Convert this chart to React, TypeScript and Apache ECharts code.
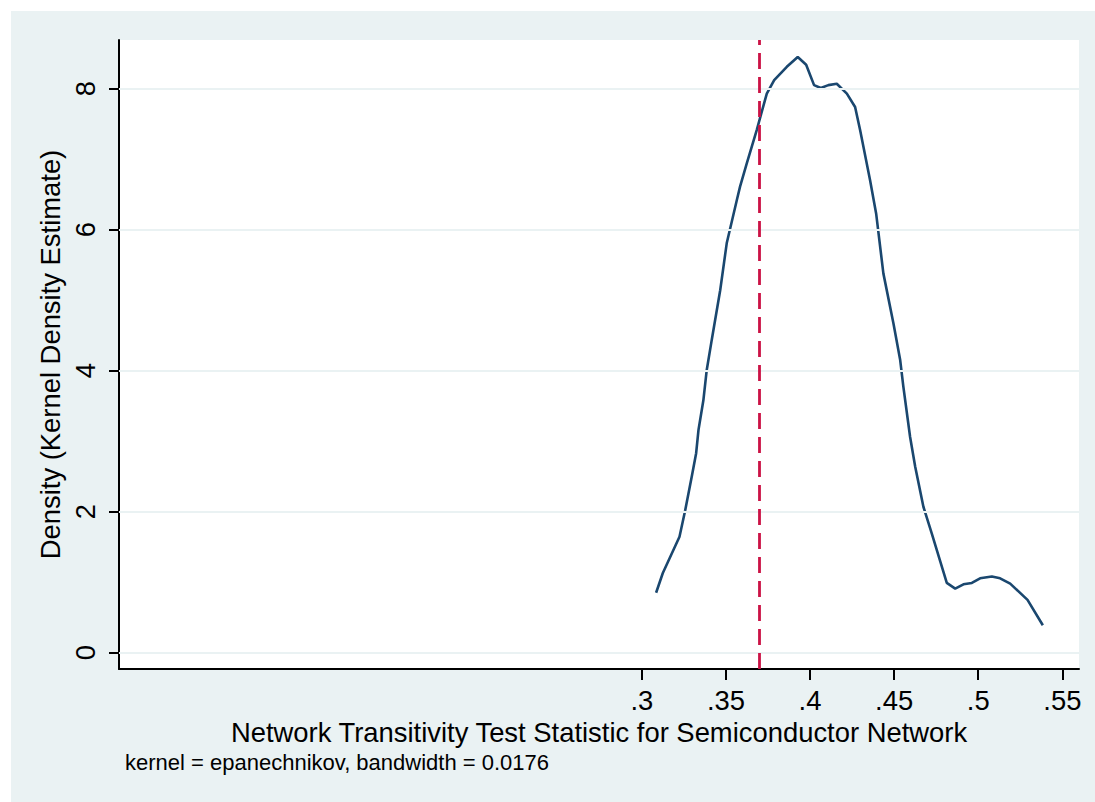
import React, { useEffect, useRef } from "react";
import * as echarts from "echarts";

const xValues = [
  0.3085, 0.3125, 0.3224, 0.3258, 0.3297, 0.3323, 0.3337, 0.3366, 0.3386, 0.3416,
  0.3466, 0.3505, 0.3565, 0.3584, 0.3624, 0.3684, 0.3743, 0.3787, 0.3862, 0.3927,
  0.3977, 0.4024, 0.4064, 0.4109, 0.4159, 0.4219, 0.4268, 0.4298, 0.4357, 0.4393,
  0.4436, 0.4496, 0.4536, 0.4555, 0.4595, 0.4625, 0.4674, 0.4724, 0.4813, 0.4863,
  0.4912, 0.4962, 0.5011, 0.5081, 0.513, 0.519, 0.5293, 0.5384,
];
const densityValues = [
  0.85, 1.13, 1.645, 2.02, 2.5, 2.83, 3.16, 3.58, 4.01, 4.44,
  5.14, 5.81, 6.42, 6.61, 6.94, 7.42, 7.93, 8.12, 8.31, 8.45,
  8.34, 8.05, 8.01, 8.05, 8.07, 7.93, 7.74, 7.41, 6.7, 6.23,
  5.38, 4.67, 4.15, 3.77, 3.06, 2.64, 2.07, 1.69, 0.99, 0.91,
  0.97, 0.99, 1.055, 1.08, 1.055, 0.98, 0.75, 0.39,
];
const xTicks = [0.3, 0.35, 0.4, 0.45, 0.5, 0.55];
const yTicks = [0, 2, 4, 6, 8];
const observedValue = 0.3704;

const xTitle = "Network Transitivity Test Statistic for Semiconductor Network";
const yTitle = "Density (Kernel Density Estimate)";
const note = "kernel = epanechnikov, bandwidth = 0.0176";

export default function App() {
  const ref = useRef<HTMLDivElement>(null);
  useEffect(() => {
    if (!ref.current) return;
    const chart = echarts.init(ref.current, undefined, { renderer: "svg" });
    const font = "'Liberation Sans', Arial, sans-serif";
    chart.setOption({
      animation: false,
      backgroundColor: "#EAF2F3",
      textStyle: { fontFamily: font },
      grid: {
        left: 108,
        top: 29,
        right: 16,
        bottom: 133,
        show: true,
        backgroundColor: "#FFFFFF",
        borderWidth: 0,
      },
      xAxis: {
        type: "value",
        min: -0.0108,
        max: 0.5599,
        name: xTitle,
        nameLocation: "middle",
        nameGap: 44,
        nameTextStyle: { fontSize: 27.4, color: "#000", fontFamily: font },
        axisLine: { show: true, onZero: false, lineStyle: { color: "#000", width: 2 } },
        axisTick: { show: true, length: 11, customValues: xTicks, lineStyle: { color: "#000", width: 2 } },
        axisLabel: {
          customValues: xTicks,
          fontSize: 27.4,
          color: "#000",
          margin: 18,
          formatter: (v: number) => String(v).replace(/^0/, ""),
        },
        splitLine: { show: false },
      },
      yAxis: {
        type: "value",
        min: -0.231,
        max: 8.69,
        name: yTitle,
        nameLocation: "middle",
        nameGap: 50,
        nameRotate: 90,
        nameTextStyle: { fontSize: 27.4, color: "#000", fontFamily: font },
        axisLine: { show: true, onZero: false, lineStyle: { color: "#000", width: 2 } },
        axisTick: { show: true, length: 10, customValues: yTicks, lineStyle: { color: "#000", width: 2 } },
        axisLabel: {
          customValues: yTicks,
          fontSize: 27.4,
          color: "#000",
          margin: 20,
          rotate: 90,
        },
        splitLine: { show: false },
      },
      graphic: [
        {
          type: "text",
          left: 114,
          top: 740,
          style: { text: note, fontSize: 22, fill: "#000", fontFamily: font },
        },
      ],
      series: [
        {
          type: "line",
          data: yTicks.map(() => null),
          silent: true,
          markLine: {
            silent: true,
            symbol: "none",
            label: { show: false },
            lineStyle: { color: "#EAF2F3", width: 2, type: "solid" },
            data: yTicks.map((t) => ({ yAxis: t })),
          },
        },
        {
          type: "line",
          data: xValues.map((x, i) => [x, densityValues[i]]),
          showSymbol: false,
          smooth: false,
          lineStyle: { color: "#1A476F", width: 2.6 },
          itemStyle: { color: "#1A476F" },
          z: 3,
        },
        {
          type: "line",
          data: [],
          markLine: {
            silent: true,
            symbol: "none",
            label: { show: false },
            lineStyle: { color: "#CB1245", width: 2.8, type: [16, 8] },
            data: [{ xAxis: observedValue }],
          },
          z: 4,
        },
      ],
    });
    return () => chart.dispose();
  }, []);
  return (
    <div style={{ position: "fixed", left: 0, top: 0, width: 1095, height: 802, background: "#FFFFFF" }}>
      <div ref={ref} style={{ position: "absolute", left: 11, top: 11, width: 1084, height: 791 }} />
    </div>
  );
}
